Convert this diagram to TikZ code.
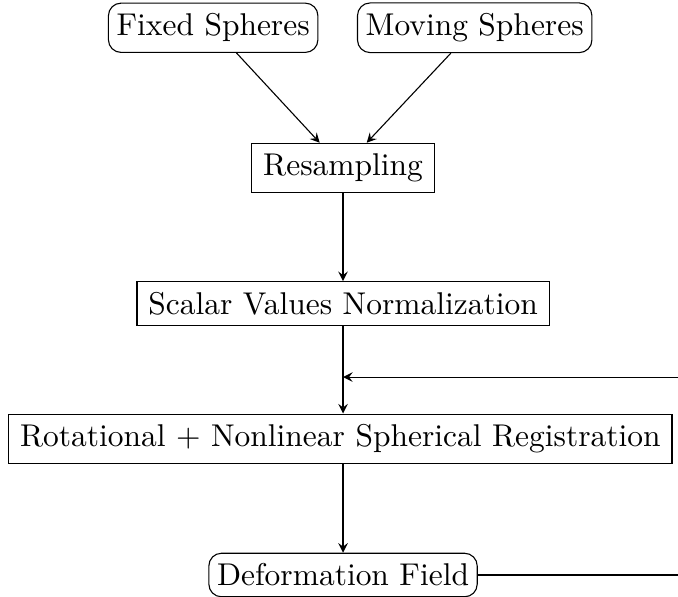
\documentclass[tikz,border=0pt]{standalone}
\usepackage{tikz}
\usetikzlibrary{calc}

\begin{document}
\begin{tikzpicture}[
  line width=0.35pt,
  rbox/.style={rectangle, draw, rounded corners=4pt, inner xsep=2.6pt, align=center},
  pbox/.style={rectangle, draw, inner xsep=3.6pt, align=center},
  arrow/.style={->, >=stealth}
]
\clip (0,0) rectangle (7.57,-6.66);

%% ---- INPUTS ----
\node[rbox] at (2.38,-0.31) (fixed)  {Fixed Spheres};
\node[rbox] at (5.30,-0.31) (moving) {Moving Spheres};

%% ---- PIPELINE ----
\node[pbox] at (3.83,-1.875) (resamp) {Resampling};
\node[pbox] at (3.83,-3.39)  (norm)   {Scalar Values Normalization};
\node[pbox] at (3.80,-4.90)  (reg)    {Rotational + Nonlinear Spherical Registration};
\node[rbox] at (3.83,-6.42)  (field)  {Deformation Field};

%% ---- feedback corner (off the page) ----
\coordinate (loop) at (8.2,-4.21);
\coordinate (join) at (3.83,-4.21);

%% ---- Arrows ----
\draw[arrow] (fixed)  -- (resamp);
\draw[arrow] (moving) -- (resamp);
\draw[arrow] (resamp) -- (norm);
\draw[arrow] (norm)   -- (norm |- reg.north);
\draw[arrow] (reg.south -| field) -- (field);
\draw[arrow] (field.east) -| (loop) -- (join);
\end{tikzpicture}
\end{document}
